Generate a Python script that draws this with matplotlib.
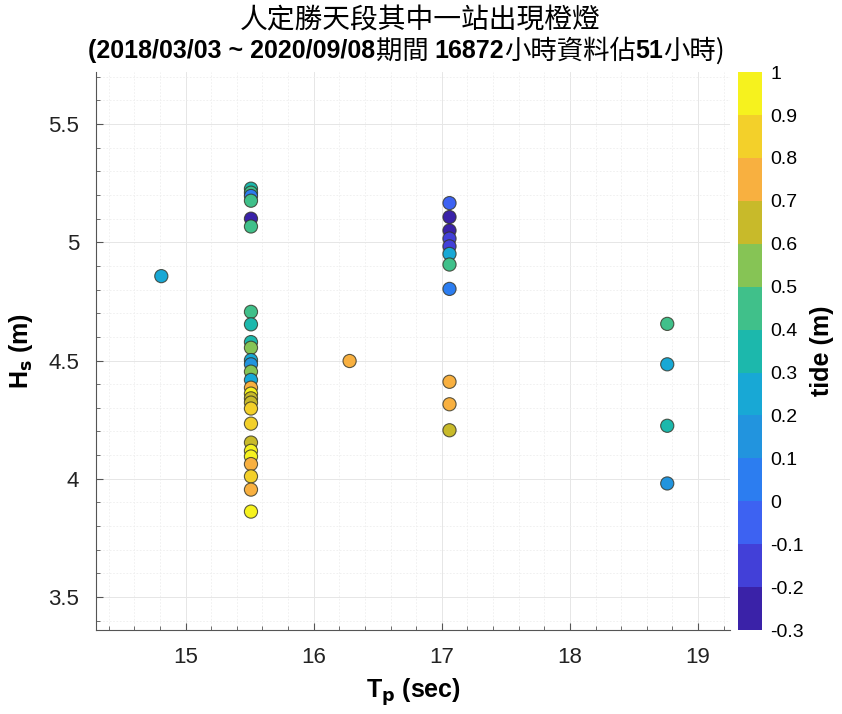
import numpy as np
import matplotlib
matplotlib.use("Agg")
import matplotlib.pyplot as plt
from matplotlib.colors import ListedColormap, BoundaryNorm
from matplotlib.ticker import MultipleLocator, FormatStrFormatter

# data (Tp in sec, Hs in m, tide in m)
tp_a = [14.81]
hs_a = [4.857]
tide_a = [0.25]

tp_b = [16.28]
hs_b = [4.498]
tide_b = [0.75]

hs_155 = [5.227, 5.21, 5.196, 5.176, 5.10, 5.067,
          4.706, 4.653, 4.578, 4.554, 4.502, 4.484, 4.453, 4.418, 4.385, 4.36,
          4.34, 4.322, 4.297, 4.233, 4.153, 4.118, 4.094, 4.062, 4.01, 3.954, 3.861]
tide_155 = [0.35, 0.45, 0.05, 0.45, -0.25, 0.45,
            0.45, 0.35, 0.35, 0.55, 0.25, 0.15, 0.55, 0.25, 0.75, 0.95,
            0.65, 0.65, 0.85, 0.85, 0.65, 0.95, 0.9, 0.75, 0.85, 0.75, 0.95]

hs_171 = [5.166, 5.107, 5.050, 5.016, 4.983, 4.951, 4.906, 4.803, 4.41, 4.315, 4.205]
tide_171 = [-0.05, -0.25, -0.25, -0.15, -0.2, 0.25, 0.45, 0.05, 0.75, 0.75, 0.65]

hs_188 = [4.655, 4.484, 4.224, 3.98]
tide_188 = [0.45, 0.25, 0.35, 0.15]

tp = tp_a + tp_b + [15.51] * len(hs_155) + [17.06] * len(hs_171) + [18.76] * len(hs_188)
hs = hs_a + hs_b + hs_155 + hs_171 + hs_188
tide = tide_a + tide_b + tide_155 + tide_171 + tide_188

# parula-like, 13 steps from -0.3 to 1.0
parula13 = ['#3A22A8', '#4240D8', '#3D62F2', '#2C7DF0', '#2294DE', '#18A8D5', '#1CB8AC',
            '#40C08A', '#86C455', '#C8BA2A', '#F8B040', '#F3D02A', '#F6F21E']
levels = np.round(np.arange(-0.3, 1.01, 0.1), 2)
cmap = ListedColormap(parula13)
norm = BoundaryNorm(levels, cmap.N)

latin = 'Liberation Sans'
cjk = 'Noto Sans CJK TC'

fig = plt.figure(figsize=(8.42, 7.14), dpi=100)
ax = fig.add_axes([0.114, 0.1176, 0.753, 0.7814])
cax = fig.add_axes([0.8765, 0.1176, 0.0285, 0.7814])

sc = ax.scatter(tp, hs, c=tide, cmap=cmap, norm=norm, s=90,
                edgecolors=(0.2, 0.2, 0.15, 0.8), linewidths=0.8, zorder=3)

ax.set_xlim(14.3, 19.25)
ax.set_ylim(3.36, 5.72)
ax.xaxis.set_major_locator(MultipleLocator(1))
ax.xaxis.set_minor_locator(MultipleLocator(0.2))
ax.yaxis.set_major_locator(MultipleLocator(0.5))
ax.yaxis.set_minor_locator(MultipleLocator(0.1))
ax.yaxis.set_major_formatter(FormatStrFormatter('%g'))
ax.grid(True, which='major', color='#e6e6e6', lw=0.7)
ax.grid(True, which='minor', color='#eeeeee', lw=0.6, ls=(0, (2, 2)))
ax.set_axisbelow(True)
for s in ['top', 'right']:
    ax.spines[s].set_visible(False)
for s in ['left', 'bottom']:
    ax.spines[s].set_color('#555555')
    ax.spines[s].set_linewidth(0.8)
ax.tick_params(which='both', direction='in', colors='#555555', labelcolor='#222222')
ax.tick_params(which='major', length=5, labelsize=16, pad=12)
ax.tick_params(which='minor', length=3)
for lab in ax.get_xticklabels() + ax.get_yticklabels():
    lab.set_family(latin)

ax.set_xlabel('T$_\\mathbf{p}$ (sec)', fontsize=18, fontweight='bold', family=latin, labelpad=6)
ax.set_ylabel('H$_\\mathbf{s}$ (m)', fontsize=18, fontweight='bold', family=latin, labelpad=10)

cb = fig.colorbar(sc, cax=cax, ticks=levels)
cb.ax.set_yticklabels(['%g' % v for v in levels])
cb.outline.set_visible(False)
cb.ax.tick_params(length=0, labelsize=14, pad=6)
for lab in cb.ax.get_yticklabels():
    lab.set_family(latin)
cb.set_label('tide (m)', fontsize=18, fontweight='bold', family=latin, labelpad=4)

# title
fig.text(0.499, 0.972, '人定勝天段其中一站出現橙燈', ha='center', va='center',
         fontsize=20, family=[cjk, 'DejaVu Sans'], fontweight='light')

pieces = [('(2018/03/03 ~ 2020/09/08', 'bold', latin),
          ('期間 ', 'light', cjk),
          ('16872', 'bold', latin),
          ('小時資料佔', 'light', cjk),
          ('51', 'bold', latin),
          ('小時)', 'light', cjk)]
t = fig.text(0.105, 0.928, pieces[0][0], ha='left', va='center', fontsize=18,
             fontweight=pieces[0][1], family=pieces[0][2])
for txt, w, fam in pieces[1:]:
    t = ax.annotate(txt, xy=(1, 0.5), xycoords=t, ha='left', va='center',
                    fontsize=18 if fam == latin else 19, fontweight=w,
                    family=[fam, 'DejaVu Sans'], annotation_clip=False)

fig.savefig('out.png', dpi=100)
